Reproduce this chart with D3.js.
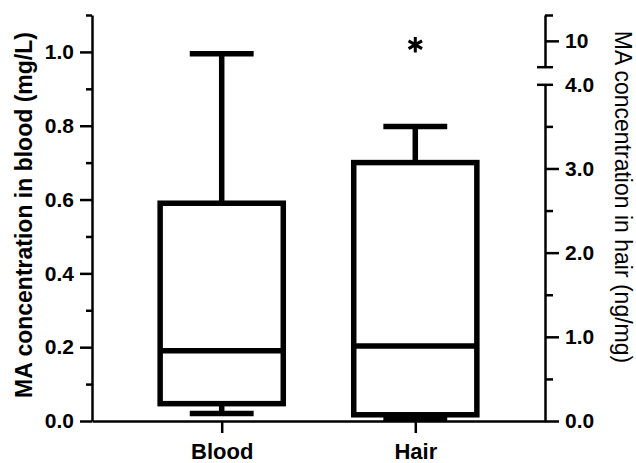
<!DOCTYPE html>
<html>
<head>
<meta charset="utf-8">
<script src="https://cdn.jsdelivr.net/npm/d3@7"></script>
<style>
  html, body { margin: 0; padding: 0; background: #fff; }
  svg { display: block; }
  text { font-family: "Liberation Sans", Arial, sans-serif; fill: #000; }
</style>
</head>
<body>
<svg id="chart" width="636" height="463"></svg>
<script>
// ---- data ----
const categories = ["Blood", "Hair"];
const whiskerLow  = [0.02, 0.03];
const q1          = [0.047, 0.074];
const median      = [0.19, 0.89];
const q3          = [0.59, 3.07];
const whiskerHigh = [0.995, 3.5];
const hairOutliers = [9.85];

const leftMajorTicks = [0, 0.2, 0.4, 0.6, 0.8, 1.0];
const leftMinorTicks = [0.1, 0.3, 0.5, 0.7, 0.9, 1.1];
const rightLowMajorTicks = [0, 1, 2, 3, 4];
const rightLowMinorTicks = [0.5, 1.5, 2.5, 3.5];
const rightHighMajorTicks = [9, 10];
const rightHighMinorTicks = [11];

const leftTitle = "MA concentration in blood (mg/L)";
const rightTitle = "MA concentration in hair (ng/mg)";

// ---- layout ----
const svg = d3.select("#chart");
const xLeft = 92, xRight = 545, yBottom = 421;

const x = d3.scalePoint().domain(categories).range([xLeft, xRight]).padding(0.67);
const step = x.step();
const boxW = step * 0.636;
const capW = step * 0.33;

const yBlood = d3.scaleLinear().domain([0, 1.1]).range([yBottom, 15]);
const yHairLow = d3.scaleLinear().domain([0, 4]).range([yBottom, 84.3]);
const yHairHigh = d3.scaleLinear().domain([9, 11]).range([66.7, 15]);
const yHair = v => v <= 4 ? yHairLow(v) : yHairHigh(v);
const yScales = [yBlood, yHair];

const axisW = 2.5;
const boxStroke = 5.5;
const tickFont = "21px";

function styleAxis(g) {
  g.selectAll("path, line").attr("stroke", "#000").attr("stroke-width", axisW);
  g.selectAll("text").attr("font-size", tickFont).attr("font-weight", "bold")
    .attr("font-family", '"Liberation Sans", Arial, sans-serif').attr("fill", "#000");
}

// Left axis
const gLeftMinor = svg.append("g").attr("transform", `translate(${xLeft},0)`)
  .call(d3.axisLeft(yBlood).tickValues(leftMinorTicks).tickSize(6).tickSizeOuter(0).tickFormat(""));
gLeftMinor.select(".domain").remove();
styleAxis(gLeftMinor);
const gLeft = svg.append("g").attr("transform", `translate(${xLeft},0)`)
  .call(d3.axisLeft(yBlood).tickValues(leftMajorTicks).tickSize(12).tickPadding(6).tickSizeOuter(0).tickFormat(d3.format(".1f")));
styleAxis(gLeft);

// Right axis lower segment
const gRLowMinor = svg.append("g").attr("transform", `translate(${xRight},0)`)
  .call(d3.axisRight(yHairLow).tickValues(rightLowMinorTicks).tickSize(8).tickSizeOuter(0).tickFormat(""));
gRLowMinor.select(".domain").remove();
styleAxis(gRLowMinor);
const gRLow = svg.append("g").attr("transform", `translate(${xRight},0)`)
  .call(d3.axisRight(yHairLow).tickValues(rightLowMajorTicks).tickSize(14).tickPadding(6).tickSizeOuter(0).tickFormat(d3.format(".1f")));
styleAxis(gRLow);
gRLow.selectAll(".tick").filter(d => d === 4).select("line").attr("x1", -8).attr("x2", 8);
gRLow.selectAll(".tick").filter(d => d === 4).select("text").attr("x", 20);

// Right axis upper segment
const gRHighMinor = svg.append("g").attr("transform", `translate(${xRight},0)`)
  .call(d3.axisRight(yHairHigh).tickValues(rightHighMinorTicks).tickSize(8).tickSizeOuter(0).tickFormat(""));
gRHighMinor.select(".domain").remove();
styleAxis(gRHighMinor);
const gRHigh = svg.append("g").attr("transform", `translate(${xRight},0)`)
  .call(d3.axisRight(yHairHigh).tickValues(rightHighMajorTicks).tickSize(14).tickPadding(6).tickSizeOuter(0)
    .tickFormat(d => d === 9 ? "" : d3.format("d")(d)));
styleAxis(gRHigh);
gRHigh.selectAll(".tick").filter(d => d === 9).select("line").attr("x1", -8).attr("x2", 8);

// Bottom axis
const gX = svg.append("g").attr("transform", `translate(0,${yBottom})`)
  .call(d3.axisBottom(x).tickSize(12).tickPadding(10).tickSizeOuter(0));
styleAxis(gX);
gX.selectAll("text").attr("font-size", "22px");

// ---- boxes ----
const boxes = svg.append("g").attr("fill", "none").attr("stroke", "#000").attr("stroke-width", boxStroke);
categories.forEach((c, i) => {
  const y = yScales[i];
  const cx = x(c);
  // whiskers
  boxes.append("line").attr("x1", cx).attr("x2", cx).attr("y1", y(q3[i])).attr("y2", y(whiskerHigh[i]));
  boxes.append("line").attr("x1", cx).attr("x2", cx).attr("y1", y(q1[i])).attr("y2", y(whiskerLow[i]));
  boxes.append("line").attr("x1", cx - capW / 2).attr("x2", cx + capW / 2).attr("y1", y(whiskerHigh[i])).attr("y2", y(whiskerHigh[i]));
  boxes.append("line").attr("x1", cx - capW / 2).attr("x2", cx + capW / 2).attr("y1", y(whiskerLow[i])).attr("y2", y(whiskerLow[i]));
  // box
  boxes.append("rect").attr("x", cx - boxW / 2).attr("width", boxW)
    .attr("y", y(q3[i])).attr("height", y(q1[i]) - y(q3[i]))
    .attr("fill", "#fff").attr("stroke-linejoin", "miter");
  boxes.append("line").attr("x1", cx - boxW / 2).attr("x2", cx + boxW / 2).attr("y1", y(median[i])).attr("y2", y(median[i]));
});

// outliers
svg.append("g").selectAll("path").data(hairOutliers).join("path")
  .attr("transform", d => `translate(${x("Hair")},${yHair(d)})`)
  .attr("d", d3.symbol(d3.symbolAsterisk, 170))
  .attr("fill", "none").attr("stroke", "#000").attr("stroke-width", 3);

// ---- titles ----
svg.append("text").attr("transform", "translate(24,215) rotate(-90)")
  .attr("text-anchor", "middle").attr("dominant-baseline", "central")
  .attr("font-size", "23px").attr("font-weight", "bold").text(leftTitle);
svg.append("text").attr("transform", "translate(623,197) rotate(90)")
  .attr("text-anchor", "middle").attr("dominant-baseline", "central")
  .attr("font-size", "23px").text(rightTitle);
</script>
</body>
</html>
